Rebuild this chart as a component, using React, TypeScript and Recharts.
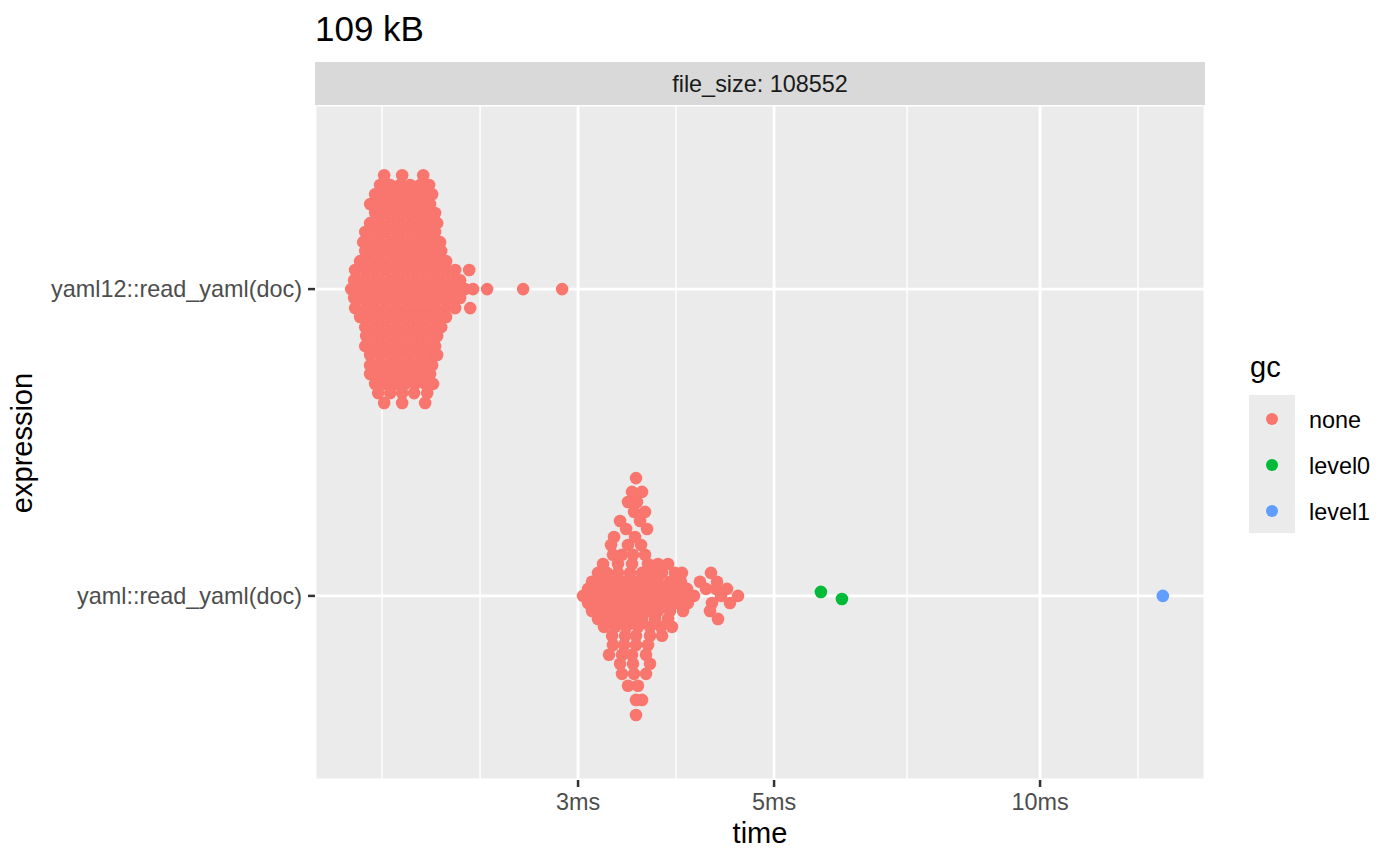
import { ScatterChart, Scatter, XAxis, YAxis, CartesianGrid } from "recharts";

const FONT = '"Liberation Sans", Arial, Helvetica, sans-serif';

// categories (bottom to top) and gc levels
const expressions = ["yaml::read_yaml(doc)", "yaml12::read_yaml(doc)"];
const gcLevels = ["none", "level0", "level1"];
const gcColors = ["#F8766D", "#00BA38", "#619CFF"];

// x axis (ms, log scale)
const timeTicks = [3, 5, 10];
const timeMinor = [1.8, 2.324, 3.873, 7.071, 12.91];
const timeDomain = [1.5115, 15.37];

// beeswarm rows: [vertical offset, times in ms]
const yaml12Rows: [number, number[]][] = [
  [0.371, [1.81, 1.897, 2.004]],
  [0.339, [1.791, 1.839, 1.887, 1.937, 1.988, 2.035]],
  [0.309, [1.768, 1.815, 1.863, 1.912, 1.962, 2.014, 2.051]],
  [0.277, [1.745, 1.791, 1.839, 1.887, 1.937, 1.988, 2.04]],
  [0.248, [1.768, 1.815, 1.863, 1.912, 1.962, 2.014, 2.067]],
  [0.215, [1.745, 1.791, 1.839, 1.887, 1.937, 1.988, 2.04, 2.078]],
  [0.186, [1.723, 1.768, 1.815, 1.863, 1.912, 1.962, 2.014, 2.067]],
  [0.153, [1.714, 1.745, 1.791, 1.839, 1.887, 1.937, 1.988, 2.04, 2.094]],
  [0.124, [1.723, 1.768, 1.815, 1.863, 1.912, 1.962, 2.014, 2.067, 2.1]],
  [0.091, [1.7, 1.745, 1.791, 1.839, 1.887, 1.937, 1.988, 2.04, 2.094, 2.127]],
  [0.062, [1.678, 1.723, 1.768, 1.815, 1.863, 1.912, 1.962, 2.014, 2.067, 2.122, 2.178, 2.259]],
  [0.029, [1.674, 1.7, 1.745, 1.791, 1.839, 1.887, 1.937, 1.988, 2.04, 2.094, 2.15, 2.206]],
  [0, [1.661, 1.678, 1.723, 1.768, 1.815, 1.863, 1.912, 1.962, 2.014, 2.067, 2.122, 2.178, 2.235, 2.282, 2.367, 2.6, 2.878]],
  [-0.029, [1.674, 1.7, 1.745, 1.791, 1.839, 1.887, 1.937, 1.988, 2.04, 2.094, 2.15, 2.206]],
  [-0.062, [1.678, 1.723, 1.768, 1.815, 1.863, 1.912, 1.962, 2.014, 2.067, 2.122, 2.178, 2.265]],
  [-0.091, [1.7, 1.745, 1.791, 1.839, 1.887, 1.937, 1.988, 2.04, 2.094, 2.127]],
  [-0.124, [1.723, 1.768, 1.815, 1.863, 1.912, 1.962, 2.014, 2.067, 2.1]],
  [-0.153, [1.727, 1.745, 1.791, 1.839, 1.887, 1.937, 1.988, 2.04, 2.078]],
  [-0.186, [1.723, 1.768, 1.815, 1.863, 1.912, 1.962, 2.014, 2.067]],
  [-0.215, [1.745, 1.791, 1.839, 1.887, 1.937, 1.988, 2.04, 2.078]],
  [-0.248, [1.745, 1.768, 1.815, 1.863, 1.912, 1.962, 2.014, 2.051]],
  [-0.277, [1.745, 1.791, 1.839, 1.887, 1.937, 1.988, 2.04]],
  [-0.309, [1.768, 1.815, 1.863, 1.912, 1.962, 2.014, 2.056]],
  [-0.339, [1.782, 1.839, 1.897, 1.957, 2.025]],
  [-0.371, [1.81, 1.897, 2.014]],
];

const yamlRows: [number, number[]][] = [
  [0.384, [3.489]],
  [0.339, [3.453, 3.544]],
  [0.306, [3.417, 3.498]],
  [0.274, [3.471, 3.572]],
  [0.244, [3.347, 3.526]],
  [0.218, [3.4, 3.591]],
  [0.192, [3.295, 3.48]],
  [0.166, [3.269, 3.417, 3.535]],
  [0.134, [3.286, 3.364, 3.462, 3.572]],
  [0.104, [3.202, 3.329, 3.453, 3.6, 3.695, 3.793]],
  [0.075, [3.16, 3.235, 3.329, 3.435, 3.544, 3.638, 3.734, 3.862, 3.933, 4.242]],
  [0.046, [3.111, 3.202, 3.295, 3.391, 3.489, 3.591, 3.695, 3.812, 3.923, 4.122, 4.309]],
  [0.023, [3.079, 3.16, 3.252, 3.347, 3.444, 3.544, 3.647, 3.753, 3.862, 3.985, 4.187, 4.298, 4.423]],
  [0, [3.039, 3.128, 3.219, 3.312, 3.408, 3.507, 3.609, 3.714, 3.822, 3.933, 4.058, 4.354, 4.551]],
  [-0.023, [3.079, 3.169, 3.261, 3.356, 3.453, 3.553, 3.657, 3.763, 3.872, 3.995, 4.253, 4.457]],
  [-0.049, [3.111, 3.202, 3.295, 3.391, 3.489, 3.591, 3.695, 3.812, 3.944, 4.231]],
  [-0.075, [3.16, 3.252, 3.347, 3.444, 3.544, 3.666, 3.793, 4.32]],
  [-0.101, [3.21, 3.304, 3.4, 3.507, 3.619, 3.724, 3.832]],
  [-0.13, [3.278, 3.391, 3.489, 3.619, 3.734]],
  [-0.16, [3.286, 3.382, 3.489, 3.6]],
  [-0.192, [3.252, 3.364, 3.453, 3.581]],
  [-0.221, [3.347, 3.462, 3.619]],
  [-0.254, [3.364, 3.471, 3.581]],
  [-0.293, [3.417, 3.507]],
  [-0.339, [3.489, 3.544]],
  [-0.388, [3.489]],
];

// [time ms, offset] for the yaml expression
const level0Points: [number, number][] = [
  [5.649, 0.013],
  [5.967, -0.01],
];
const level1Points: [number, number][] = [[13.77, 0]];

const fromRows = (rows: [number, number[]][], level: number) =>
  rows.flatMap(([off, ts]) => ts.map((t) => ({ time: t, y: level + off })));

const noneData = [...fromRows(yaml12Rows, 2), ...fromRows(yamlRows, 1)];
const level0Data = level0Points.map(([t, off]) => ({ time: t, y: 1 + off }));
const level1Data = level1Points.map(([t, off]) => ({ time: t, y: 1 + off }));
const seriesData = [noneData, level0Data, level1Data];

const dot = (color: string) => (props: any) =>
  <circle cx={props.cx} cy={props.cy} r={6.3} fill={color} />;

export default function App() {
  return (
    <div style={{ position: "absolute", left: 0, top: 0, width: 1400, height: 865, background: "#fff", fontFamily: FONT }}>
      <ScatterChart width={1400} height={865} margin={{ top: 105, right: 195, bottom: 0, left: 0 }}>
        <CartesianGrid xAxisId="minor" horizontal={false} stroke="#FFFFFF" strokeWidth={1.4} fill="#EBEBEB" />
        <CartesianGrid stroke="#FFFFFF" strokeWidth={2.8} />
        <XAxis
          xAxisId="minor"
          dataKey="time"
          type="number"
          scale="log"
          domain={timeDomain}
          ticks={timeMinor}
          allowDataOverflow
          hide
        />
        <XAxis
          dataKey="time"
          type="number"
          scale="log"
          domain={timeDomain}
          ticks={timeTicks}
          allowDataOverflow
          height={85}
          axisLine={false}
          tickSize={7}
          tickMargin={6}
          tickLine={{ stroke: "#333333", strokeWidth: 2.5 }}
          tick={{ fontSize: 23.4, fill: "#4D4D4D", fontFamily: FONT }}
          tickFormatter={(v) => `${v}ms`}
        />
        <YAxis
          dataKey="y"
          type="number"
          domain={[0.4, 2.6]}
          ticks={[1, 2]}
          allowDataOverflow
          width={315}
          axisLine={false}
          tickSize={7}
          tickMargin={6}
          tickLine={{ stroke: "#333333", strokeWidth: 2.5 }}
          tick={{ fontSize: 23.4, fill: "#4D4D4D", fontFamily: FONT }}
          tickFormatter={(v) => expressions[v - 1]}
        />
        {gcLevels.map((g, i) => (
          <Scatter key={g} name={g} data={seriesData[i]} fill={gcColors[i]} shape={dot(gcColors[i])} isAnimationActive={false} />
        ))}
      </ScatterChart>
      <svg width={1400} height={865} style={{ position: "absolute", left: 0, top: 0, pointerEvents: "none" }} fontFamily={FONT}>
        <text x={315} y={41} fontSize={35} fill="#000">109 kB</text>
        <rect x={315} y={62} width={890} height={43} fill="#D9D9D9" />
        <text x={760} y={92} fontSize={23.4} fill="#1A1A1A" textAnchor="middle">file_size: 108552</text>
        <text x={760} y={843} fontSize={29} fill="#000" textAnchor="middle">time</text>
        <text transform="translate(32,443) rotate(-90)" fontSize={29} fill="#000" textAnchor="middle">expression</text>
        <text x={1250} y={377} fontSize={29} fill="#000">gc</text>
        <rect x={1249} y={395} width={46} height={138} fill="#EBEBEB" />
        {gcLevels.map((g, i) => (
          <g key={g}>
            <circle cx={1272} cy={419 + i * 46} r={6} fill={gcColors[i]} />
            <text x={1309} y={427.5 + i * 46} fontSize={23.4} fill="#000">{g}</text>
          </g>
        ))}
      </svg>
    </div>
  );
}
